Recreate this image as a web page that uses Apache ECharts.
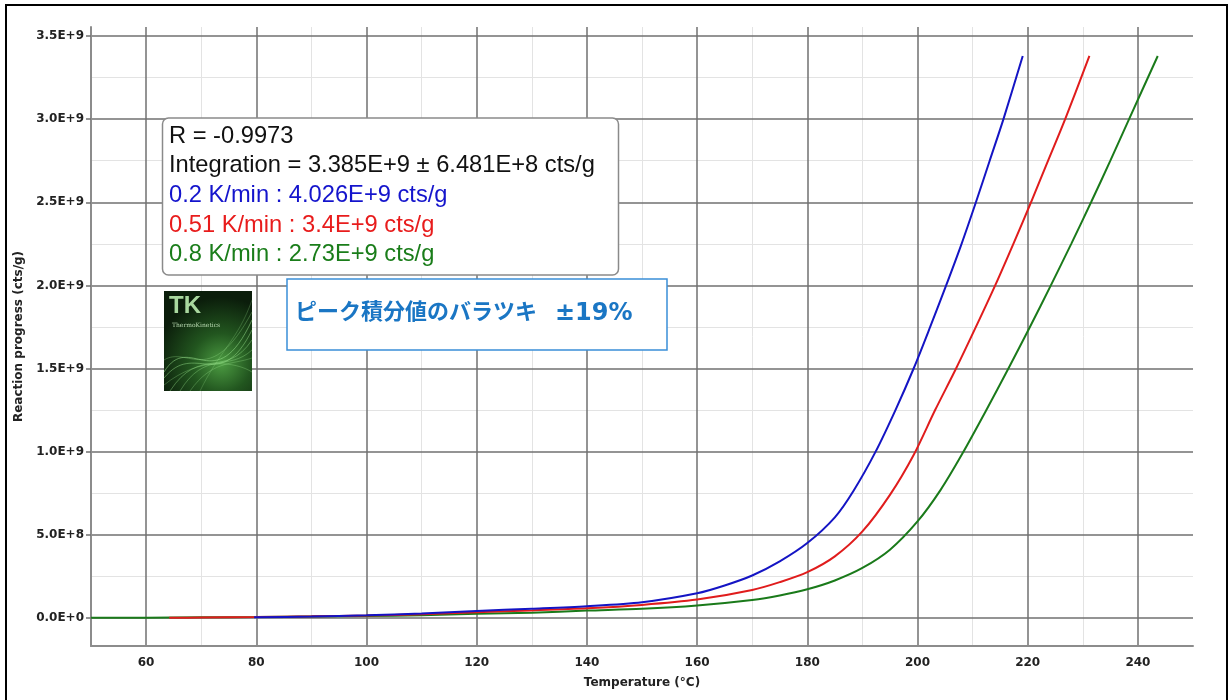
<!DOCTYPE html>
<html>
<head>
<meta charset="utf-8">
<script src="https://cdn.jsdelivr.net/npm/echarts@6/dist/echarts.min.js"></script>
<style>
html,body{margin:0;padding:0;background:#fff;}
#chart{width:1229px;height:700px;}
</style>
</head>
<body>
<div id="chart"></div>
<script>
// ---- data ----
// Temperature (°C) and reaction progress (E+9 cts/g)
const blueT = [79.6, 90, 100, 110, 120, 130, 140, 150, 160, 165, 170, 175, 180, 185, 188.4, 192.4, 196, 199.3, 202.3, 205.2, 208, 210.6, 213.1, 215.6, 219.1];
const blueV = [0.003, 0.008, 0.016, 0.026, 0.042, 0.055, 0.07, 0.094, 0.148, 0.195, 0.255, 0.34, 0.45, 0.605, 0.765, 1.0, 1.25, 1.5, 1.75, 2.0, 2.25, 2.5, 2.75, 3.0, 3.38];

const redT = [64.2, 70, 80, 90, 100, 110, 120, 130, 140, 150, 160, 170, 175, 180, 185, 190, 195, 199.3, 203.2, 207.0, 210.6, 214.1, 217.4, 220.6, 223.7, 226.8, 231.2];
const redV = [0, 0.002, 0.005, 0.009, 0.014, 0.022, 0.034, 0.045, 0.058, 0.078, 0.11, 0.168, 0.215, 0.275, 0.37, 0.52, 0.74, 0.98, 1.25, 1.5, 1.75, 2.0, 2.25, 2.5, 2.75, 3.0, 3.38];

const greenT = [50, 60, 70, 80, 90, 100, 110, 120, 130, 140, 150, 160, 170, 175, 180, 185, 190, 195, 200, 204.2, 208.1, 212.5, 216.5, 220.4, 224.2, 227.9, 231.5, 235.0, 238.4, 243.6];
const greenV = [0, 0.001, 0.003, 0.005, 0.008, 0.011, 0.016, 0.024, 0.031, 0.044, 0.055, 0.075, 0.108, 0.135, 0.172, 0.225, 0.3, 0.41, 0.58, 0.77, 0.985, 1.25, 1.5, 1.75, 2.0, 2.25, 2.5, 2.75, 3.0, 3.38];

const seriesNames = ['0.2 K/min', '0.51 K/min', '0.8 K/min'];
const xMajorTicks = [60, 80, 100, 120, 140, 160, 180, 200, 220, 240];
const xMinorTicks = [70, 90, 110, 130, 150, 170, 190, 210, 230];
const yMajorTicks = [0, 0.5, 1.0, 1.5, 2.0, 2.5, 3.0, 3.5];           // E+9
const yMinorTicks = [0.25, 0.75, 1.25, 1.75, 2.25, 2.75, 3.25];       // E+9

const infoLines = [
  {text: 'R = -0.9973', color: '#111111'},
  {text: 'Integration = 3.385E+9 ± 6.481E+8 cts/g', color: '#111111'},
  {text: '0.2 K/min : 4.026E+9 cts/g', color: '#1414cc'},
  {text: '0.51 K/min : 3.4E+9 cts/g', color: '#e81c1c'},
  {text: '0.8 K/min : 2.73E+9 cts/g', color: '#1a7d1a'}
];
const noteMain = 'ピーク積分値のバラツキ';
const noteValue = '±19%';

// ---- build ----
const E9 = 1e9;
const pairs = (T, V) => T.map((t, i) => [t, V[i] * E9]);
const yMajor = yMajorTicks.map(v => v * E9);
const yMinor = yMinorTicks.map(v => v * E9);
const yMin = -0.16925 * E9, yMax = 3.55425 * E9;

function sci(v) {
  if (Math.abs(v) < 1) return '0.0E+0';
  const e = Math.floor(Math.log10(Math.abs(v)) + 1e-9);
  const m = v / Math.pow(10, e);
  return m.toFixed(1) + 'E+' + e;
}

const axisFont = {fontFamily: 'DejaVu Sans', fontWeight: 'bold', fontSize: 12, color: '#222'};

const chart = echarts.init(document.getElementById('chart'), null, {renderer: 'canvas'});

const infoGraphics = infoLines.map((l, i) => ({
  type: 'text', left: 169, top: 124 + i * 29.7, z: 101,
  style: {text: l.text, fill: l.color, font: '23.7px "Liberation Sans", Arial, sans-serif'}
}));

// logo strands (decorative)
const strands = [];
const strandDefs = [
  [164, 372, 190, 330, 215, 400, 252, 320, 0.5],
  [164, 378, 195, 340, 220, 395, 252, 330, 0.45],
  [170, 391, 200, 345, 225, 380, 252, 340, 0.4],
  [180, 391, 205, 350, 228, 372, 252, 350, 0.35],
  [164, 360, 188, 345, 210, 390, 252, 312, 0.3],
  [190, 391, 212, 360, 232, 365, 252, 358, 0.3],
  [164, 385, 200, 356, 236, 362, 252, 372, 0.3],
  [200, 391, 220, 350, 238, 340, 252, 300, 0.25]
];
strandDefs.forEach(d => {
  strands.push({
    type: 'bezierCurve', z: 103,
    shape: {x1: d[0], y1: d[1], cpx1: d[2], cpy1: d[3], cpx2: d[4], cpy2: d[5], x2: d[6], y2: d[7]},
    style: {stroke: '#9be58f', lineWidth: 1, opacity: d[8], fill: null}
  });
});

const option = {
  animation: false,
  backgroundColor: '#ffffff',
  grid: {left: 91, right: 36, top: 27, bottom: 54, containLabel: false, outerBoundsMode: 'none'},
  xAxis: [
    {
      type: 'value', min: 50, max: 250, position: 'bottom', z: 1,
      axisLine: {show: true, onZero: false, lineStyle: {color: '#8c8c8c', width: 2}},
      axisTick: {show: false, customValues: xMajorTicks},
      axisLabel: Object.assign({customValues: xMajorTicks, margin: 11}, axisFont),
      splitLine: {show: true, lineStyle: {color: '#707070', width: 1.5}},
      name: 'Temperature (°C)', nameLocation: 'middle', nameGap: 31,
      nameTextStyle: {fontFamily: 'DejaVu Sans', fontWeight: 'bold', fontSize: 12, color: '#222'}
    },
    {
      type: 'value', min: 50, max: 250, position: 'bottom', z: 0,
      axisLine: {show: false},
      axisTick: {show: false, customValues: xMinorTicks},
      axisLabel: {show: false, customValues: xMinorTicks},
      splitLine: {show: true, lineStyle: {color: '#e3e3e3', width: 1}}
    }
  ],
  yAxis: [
    {
      type: 'value', min: yMin, max: yMax, position: 'left', z: 1,
      axisLine: {show: true, onZero: false, lineStyle: {color: '#8c8c8c', width: 2}},
      axisTick: {show: true, length: 5, customValues: yMajor, lineStyle: {color: '#707070', width: 1.5}},
      axisLabel: Object.assign({customValues: yMajor, margin: 7, formatter: sci}, axisFont),
      splitLine: {show: true, lineStyle: {color: '#707070', width: 1.5}},
      name: 'Reaction progress (cts/g)', nameLocation: 'middle', nameGap: 59, nameRotate: 90,
      nameTextStyle: {fontFamily: 'DejaVu Sans', fontWeight: 'bold', fontSize: 12, color: '#222'}
    },
    {
      type: 'value', min: yMin, max: yMax, position: 'left', z: 0,
      axisLine: {show: false},
      axisTick: {show: false, customValues: yMinor},
      axisLabel: {show: false, customValues: yMinor},
      splitLine: {show: true, lineStyle: {color: '#e3e3e3', width: 1}}
    }
  ],
  series: [
    {name: seriesNames[2], type: 'line', data: pairs(greenT, greenV), smooth: 0.3, showSymbol: false,
     lineStyle: {color: '#1a7a1a', width: 2}, z: 3},
    {name: seriesNames[1], type: 'line', data: pairs(redT, redV), smooth: 0.3, showSymbol: false,
     lineStyle: {color: '#e01c1c', width: 2}, z: 4},
    {name: seriesNames[0], type: 'line', data: pairs(blueT, blueV), smooth: 0.3, showSymbol: false,
     lineStyle: {color: '#1414c4', width: 2}, z: 5}
  ],
  graphic: [
    // outer frame
    {type: 'rect', z: 50, shape: {x: 6, y: 5, width: 1221, height: 720},
     style: {fill: null, stroke: '#000', lineWidth: 2}},
    // info box
    {type: 'rect', z: 100, shape: {x: 162.5, y: 118, width: 456, height: 157, r: 6},
     style: {fill: '#ffffff', stroke: '#8a8a8a', lineWidth: 1.5}},
    ...infoGraphics,
    // note box
    {type: 'rect', z: 100, shape: {x: 287, y: 279, width: 380, height: 71},
     style: {fill: '#ffffff', stroke: '#3a8fd8', lineWidth: 1.5}},
    {type: 'text', z: 101, left: 295, top: 300,
     style: {text: noteMain, fill: '#1a76c4', font: 'bold 22px "Noto Sans CJK JP", sans-serif'}},
    {type: 'text', z: 101, left: 555, top: 302,
     style: {text: noteValue, fill: '#1a76c4', font: 'bold 24px "DejaVu Sans", sans-serif'}},
    // logo
    {type: 'rect', z: 102, shape: {x: 164, y: 291, width: 88, height: 100},
     style: {fill: new echarts.graphic.RadialGradient(0.65, 0.72, 0.75, [
       {offset: 0, color: '#4c9c42'}, {offset: 0.45, color: '#22561f'}, {offset: 1, color: '#0b1d0b'}])}},
    ...strands,
    {type: 'text', z: 104, left: 169, top: 294,
     style: {text: 'TK', fill: '#a9d89f', font: 'bold 24px "Liberation Sans", Arial, sans-serif'}},
    {type: 'text', z: 104, left: 172, top: 322,
     style: {text: 'ThermoKinetics', fill: '#b8d8b0', font: '6px "DejaVu Serif", serif'}}
  ]
};
chart.setOption(option);
</script>
</body>
</html>
